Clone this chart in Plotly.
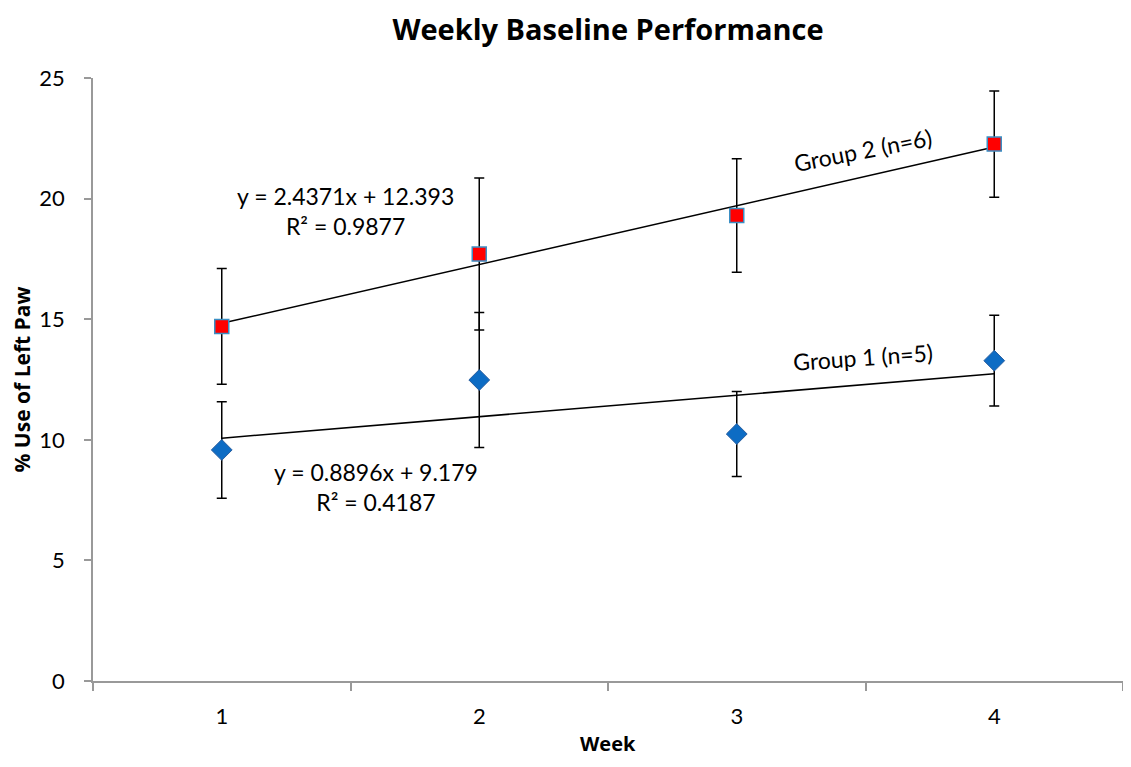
import plotly.graph_objects as go

weeks = ["1", "2", "3", "4"]
group1_mean = [9.58, 12.48, 10.24, 13.28]
group1_err = [2.0, 2.8, 1.76, 1.88]
group2_mean = [14.7, 17.7, 19.3, 22.26]
group2_err = [2.4, 3.15, 2.35, 2.2]
trend1 = (0.8896, 9.179)
trend2 = (2.4371, 12.393)

FONT = "Lato, 'Open Sans', sans-serif"
BOLD = "'Open Sans', sans-serif"

fig = go.Figure()

# trendlines
for slope, icpt in (trend1, trend2):
    fig.add_trace(go.Scatter(
        x=weeks, y=[slope * (i + 1) + icpt for i in range(len(weeks))],
        mode="lines", line=dict(color="black", width=1.5),
        showlegend=False, hoverinfo="skip"))

fig.add_trace(go.Scatter(
    x=weeks, y=group1_mean, mode="markers", name="Group 1 (n=5)",
    marker=dict(symbol="diamond", size=16, color="#0d6cc4",
                line=dict(color="#2a5fa0", width=1)),
    error_y=dict(type="data", array=group1_err, visible=True,
                 color="black", thickness=1.5, width=5),
    showlegend=False))

fig.add_trace(go.Scatter(
    x=weeks, y=group2_mean, mode="markers", name="Group 2 (n=6)",
    marker=dict(symbol="square", size=14, color="#ff0000",
                line=dict(color="#3b8fc4", width=1.5)),
    error_y=dict(type="data", array=group2_err, visible=True,
                 color="black", thickness=1.5, width=5),
    showlegend=False))

afont = dict(size=23, color="black", family=FONT)
fig.add_annotation(x=0.479, y=19.5, xref="x", yref="y",
                   text="y = 2.4371x + 12.393<br>R² = 0.9877",
                   showarrow=False, font=afont, align="center")
fig.add_annotation(x=0.598, y=8.04, xref="x", yref="y",
                   text="y = 0.8896x + 9.179<br>R² = 0.4187",
                   showarrow=False, font=afont, align="center")
fig.add_annotation(x=2.49, y=22.0, xref="x", yref="y",
                   text="Group 2 (n=6)", textangle=-11,
                   showarrow=False, font=afont)
fig.add_annotation(x=2.49, y=13.45, xref="x", yref="y",
                   text="Group 1 (n=5)", textangle=-4,
                   showarrow=False, font=afont)

# axis titles
fig.add_annotation(x=0, xref="paper", xshift=-72, y=0.5, yref="paper",
                   xanchor="center", yanchor="middle",
                   text="<b>% Use of Left Paw</b>", textangle=-90,
                   showarrow=False, font=dict(size=21, color="black", family=BOLD))
fig.add_annotation(x=0.5, xref="paper", y=0, yref="paper", yshift=-62,
                   xanchor="center", yanchor="middle", borderpad=0,
                   text="<b>Week</b>",
                   showarrow=False, font=dict(size=20, color="black", family=BOLD))

# page body has an 8px margin; size figure so it fits without scrollbars
W, H = 1115, 751
fig.update_layout(
    width=W, height=H,
    margin=dict(l=85, r=0, t=70, b=78, autoexpand=False),
    paper_bgcolor="white", plot_bgcolor="white",
    font=dict(family=FONT, color="black"),
    title=dict(text="<b>Weekly Baseline Performance</b>", x=0.5, xanchor="center",
               xref="paper", y=1 - 22 / H, yanchor="middle", font=dict(size=29, family=BOLD)),
    xaxis=dict(type="category", range=[-0.5, 3.5], tickson="boundaries",
               ticks="outside", ticklen=8, tickcolor="#999999", tickwidth=1.5,
               showline=True, linecolor="#999999", linewidth=1.5,
               showgrid=False, zeroline=False, automargin=False,
               tickfont=dict(size=22), ticklabelstandoff=15),
    yaxis=dict(range=[0, 25], tickvals=[0, 5, 10, 15, 20, 25],
               ticks="outside", ticklen=7, tickcolor="#999999", tickwidth=1.5,
               showline=True, linecolor="#999999", linewidth=1.5,
               showgrid=False, zeroline=False, automargin=False,
               tickfont=dict(size=22), ticklabelstandoff=15),
)

fig.write_html("out.html")
